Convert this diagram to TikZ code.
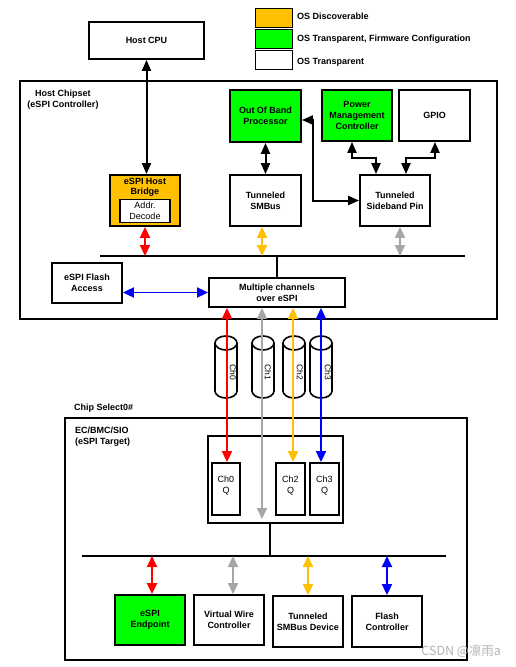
\documentclass[tikz,border=0pt]{standalone}
\usepackage{fontspec}
\setmainfont{Liberation Sans}
\newfontfamily\cjk{Noto Sans CJK SC}
\usetikzlibrary{arrows.meta}
\definecolor{orng}{HTML}{FFC000}
\definecolor{grn}{HTML}{00FF00}
\definecolor{gry}{HTML}{A6A6A6}
\definecolor{wm}{HTML}{B4B4B4}
\begin{document}
\begin{tikzpicture}[x=1pt,y=-1pt,
  box/.style={draw, line width=1.8pt, fill=white, font=\fontsize{9}{11}\selectfont\bfseries, align=center, inner sep=1pt},
  rbox/.style={draw, line width=1.3pt, fill=white, font=\fontsize{9}{10.5}\selectfont, align=center, inner sep=1pt},
  legbox/.style={draw, line width=1pt, minimum width=37, minimum height=19, inner sep=0pt},
  lbl/.style={font=\fontsize{9}{11}\selectfont\bfseries, inner sep=0pt},
  rlbl/.style={font=\fontsize{9}{11}\selectfont, inner sep=0pt, align=center},
  dblk/.style={{Triangle[length=11pt,width=9pt]}-{Triangle[length=11pt,width=9pt]}, line width=2pt},
  dblc/.style={{Triangle[length=11pt,width=10pt]}-{Triangle[length=11pt,width=10pt]}, line width=1.8pt},
  busline/.style={line width=1.8pt}]
\useasboundingbox (0,0) rectangle (516,667);
% legend
\node[legbox, fill=orng] (l1) at (273.5,18) {};
\node[legbox, fill=grn] (l2) at (273.5,38.5) {};
\node[legbox, fill=white] (l3) at (273.5,59.5) {};
\node[lbl, anchor=west] (l1t) at (297,16.5) {OS Discoverable};
\node[lbl, anchor=west] (l2t) at (297,39.5) {OS Transparent, Firmware Configuration};
\node[lbl, anchor=west] (l3t) at (297,62.5) {OS Transparent};
% host CPU
\node[box, minimum width=115, minimum height=37] (cpu) at (146.5,40.5) {Host CPU};
% host chipset
\node[draw, line width=1.8pt, minimum width=477, minimum height=238, inner sep=0pt] (hc) at (258.5,200) {};
\node[lbl, align=center] (hcl) at (63,99.5) {Host Chipset\\(eSPI Controller)};
\node[box, fill=grn, minimum width=71, minimum height=52] (oob) at (265.5,116) {Out Of Band\\Processor};
\node[box, fill=grn, minimum width=70, minimum height=51] (pmc) at (357,115.5) {Power\\Management\\Controller};
\node[box, minimum width=71, minimum height=51] (gpio) at (434.5,115.5) {GPIO};
\node[box, fill=orng, minimum width=70, minimum height=51] (hb) at (145,200.5) {};
\node[lbl, align=center, font=\fontsize{9}{10}\selectfont\bfseries] (hbt) at (145,187.8) {eSPI Host\\Bridge};
\node[rbox, minimum width=50, minimum height=23] (ad) at (145,211) {Addr.\\Decode};
\node[box, minimum width=71, minimum height=51] (smb) at (265.5,200.5) {Tunneled\\SMBus};
\node[box, minimum width=70, minimum height=51] (sb) at (395,200.5) {Tunneled\\Sideband Pin};
\node[box, minimum width=70, minimum height=40] (fa) at (87,283) {eSPI Flash\\Access};
\node[box, minimum width=136, minimum height=29] (mc) at (277,292.5) {Multiple channels\\over eSPI};
% upper bus
\coordinate (busL) at (100,256);
\coordinate (busR) at (465,256);
\draw[busline] (busL) -- (busR);
\draw[busline] (mc.north) -- (mc.north |- busL);
\coordinate (ux1) at (262,0);
\coordinate (ux2) at (400,0);
\draw[dblc, red] (hb.south) -- (hb.south |- busL);
\draw[dblc, orng] (smb.south -| ux1) -- (busL -| ux1);
\draw[dblc, gry] (sb.south -| ux2) -- (busL -| ux2);
\draw[dblc, blue] (fa.east |- mc.west) -- (mc.west);
% black arrows
\draw[dblk] (cpu.south) -- (cpu.south |- hb.north);
\draw[dblk] (oob.south) -- (oob.south |- smb.north);
\coordinate (ob1) at (313,120);
\draw[dblk] (oob.east |- ob1) -- (ob1) |- (sb.west);
\coordinate (pm1) at (352,158);
\coordinate (pm2) at (376,158);
\draw[dblk] (pmc.south -| pm1) -- (pm1) -- (pm2) -- (sb.north -| pm2);
\coordinate (gp1) at (435,158);
\coordinate (gp2) at (406,158);
\draw[dblk] (gpio.south -| gp1) -- (gp1) -- (gp2) -- (sb.north -| gp2);
% cylinders
\foreach \cx/\lx/\lab in {226/233/Ch0, 263/268/Ch1, 294/300/Ch2, 321/328/Ch3} {
  \filldraw[fill=white, line width=1.6pt] (\cx-11,343) -- (\cx-11,391) arc[start angle=180, end angle=0, x radius=11, y radius=7] -- (\cx+11,343);
  \draw[line width=1.6pt] (\cx,343) ellipse [x radius=11, y radius=7];
  \node[rlbl, font=\fontsize{8.5}{10}\selectfont, rotate=-90] (cyl\lab) at (\lx,372) {\lab};
}
% target
\node[lbl, anchor=west] (csl) at (74,408) {Chip Select0\#};
\node[draw, line width=1.8pt, minimum width=402, minimum height=242, inner sep=0pt] (ec) at (266,539) {};
\node[lbl, align=left, anchor=west] (ecl) at (75,436.5) {EC/BMC/SIO\\(eSPI Target)};
\node[box, minimum width=135, minimum height=87] (qb) at (275.5,479.5) {};
\node[box, minimum width=28, minimum height=52] (q0) at (226,489) {};
\node[box, minimum width=29, minimum height=52] (q2) at (290.5,489) {};
\node[box, minimum width=29, minimum height=52] (q3) at (324.5,489) {};
\node[rlbl] (q0t) at (226,486) {Ch0\\Q};
\node[rlbl] (q2t) at (290.5,486) {Ch2\\Q};
\node[rlbl] (q3t) at (324.5,486) {Ch3\\Q};
% channel arrows
\coordinate (cx0) at (227,0);
\coordinate (gend) at (262,519);
\coordinate (cx2) at (293,0);
\coordinate (cx3) at (321,0);
\draw[dblc, red] (mc.south -| cx0) -- (q0.north -| cx0);
\draw[dblc, gry] (mc.south -| gend) -- (gend);
\draw[dblc, orng] (mc.south -| cx2) -- (q2.north -| cx2);
\draw[dblc, blue] (mc.south -| cx3) -- (q3.north -| cx3);
% lower bus
\coordinate (b2L) at (82,556);
\coordinate (b2R) at (446,556);
\coordinate (qv) at (270,0);
\draw[busline] (b2L) -- (b2R);
\draw[busline] (qb.south -| qv) -- (b2L -| qv);
\node[box, fill=grn, minimum width=70, minimum height=50] (ep) at (150,620) {eSPI\\Endpoint};
\node[box, minimum width=70, minimum height=50] (vw) at (229,620) {Virtual Wire\\Controller};
\node[box, minimum width=70, minimum height=51] (tsd) at (308,621.5) {Tunneled\\SMBus Device};
\node[box, minimum width=70, minimum height=51] (fc) at (387,621.5) {Flash\\Controller};
\coordinate (ax0) at (152,0);
\coordinate (ax1) at (233,0);
\coordinate (ax2) at (308,0);
\coordinate (ax3) at (387,0);
\draw[dblc, red] (ep.north -| ax0) -- (b2L -| ax0);
\draw[dblc, gry] (vw.north -| ax1) -- (b2L -| ax1);
\draw[dblc, orng] (tsd.north -| ax2) -- (b2L -| ax2);
\draw[dblc, blue] (fc.north -| ax3) -- (b2L -| ax3);
% watermark
\node[font=\cjk\fontsize{12.5}{14}\selectfont, text=wm, anchor=east, inner sep=0pt] (wmk) at (501,651) {CSDN @凛雨a};
\end{tikzpicture}
\end{document}
